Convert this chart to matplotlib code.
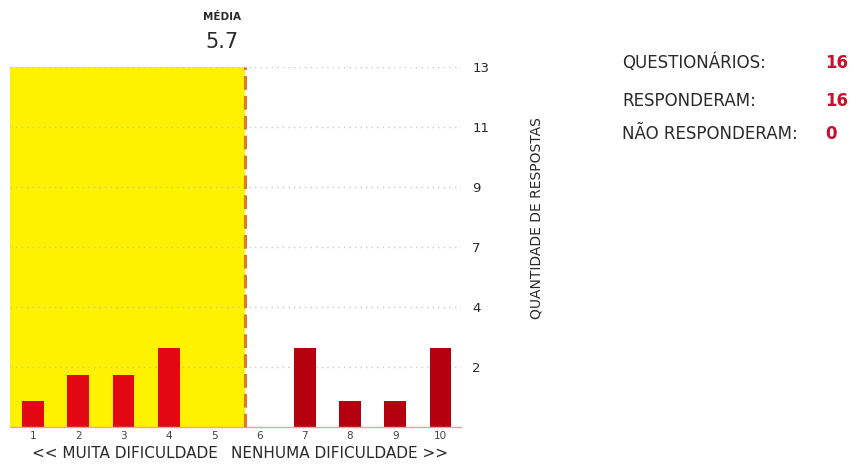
import matplotlib
matplotlib.use("Agg")
import matplotlib.pyplot as plt
import numpy as np

plt.rcParams["font.family"] = ["DejaVu Sans"]

# data
notas = [1, 2, 3, 4, 5, 6, 7, 8, 9, 10]
respostas = [1, 2, 2, 3, 0, 0, 3, 1, 1, 3]
grid_labels = ["2", "4", "7", "9", "11", "13"]
n_questionarios = 16
n_responderam = 16
n_nao_responderam = 0

RED, DARK_RED, YELLOW, ORANGE, INK = "#e30613", "#b5000f", "#fff200", "#e07a1f", "#2a2a2a"

media = sum(n * r for n, r in zip(notas, respostas)) / sum(respostas)
ymax = n_responderam
grid_pos = np.arange(1, len(grid_labels) + 1) * ymax / 7

fig = plt.figure(figsize=(8.54, 4.69), dpi=100)
ax = fig.add_axes([10.4 / 854, 42 / 469, 450.6 / 854, 360 / 469])

ax.set_xlim(0.5, 10.45)
ax.set_ylim(0, grid_pos[-1])

# yellow zone up to the mean, then the mean line
ax.axvspan(0.5, media, color=YELLOW, zorder=0, lw=0)
ax.axvline(media, color=ORANGE, lw=2.2, ls=(0, (4.5, 2)), zorder=3)

for y in grid_pos:
    ax.axhline(y, color="#bdbdbd", lw=1.0, ls=(0, (1, 3)), zorder=1, alpha=0.8)

colors = [RED if n < media else DARK_RED for n in notas]
ax.bar(notas, respostas, width=0.48, color=colors, zorder=2)

ax.set_xticks(notas)
ax.set_xticklabels([str(n) for n in notas], fontsize=7.5, color="#444444")
ax.tick_params(axis="x", length=0, pad=3)

ax.yaxis.tick_right()
ax.set_yticks(grid_pos)
ax.set_yticklabels(grid_labels, fontsize=9.5, color=INK)
ax.tick_params(axis="y", length=0, pad=8)

for s in ["top", "left", "right"]:
    ax.spines[s].set_visible(False)
ax.spines["bottom"].set_color("#e9a3a3")
ax.spines["bottom"].set_linewidth(1)

fig.text(125 / 854, 1 - 453 / 469, "<< MUITA DIFICULDADE", ha="center", va="center",
         fontsize=11, color=INK)
fig.text(340 / 854, 1 - 453 / 469, "NENHUMA DIFICULDADE >>", ha="center", va="center",
         fontsize=11, color=INK)

fig.text(222 / 854, 1 - 17 / 469, "MÉDIA", ha="center", va="center", fontsize=7.5,
         fontweight="bold", color=INK)
fig.text(222 / 854, 1 - 42 / 469, f"{media:.1f}", ha="center", va="center", fontsize=15,
         color=INK)

fig.text(536 / 854, 1 - 218 / 469, "QUANTIDADE DE RESPOSTAS", rotation=90, ha="center",
         va="center", fontsize=10, color=INK)

rows = [("QUESTIONÁRIOS:", n_questionarios, 63),
        ("RESPONDERAM:", n_responderam, 101),
        ("NÃO RESPONDERAM:", n_nao_responderam, 134)]
for label, val, ypx in rows:
    fig.text(622 / 854, 1 - ypx / 469, label, ha="left", va="center", fontsize=12,
             color=INK)
    fig.text(825 / 854, 1 - ypx / 469, str(val), ha="left", va="center", fontsize=12,
             fontweight="bold", color="#c8102e")

fig.savefig("out.png", dpi=100)
